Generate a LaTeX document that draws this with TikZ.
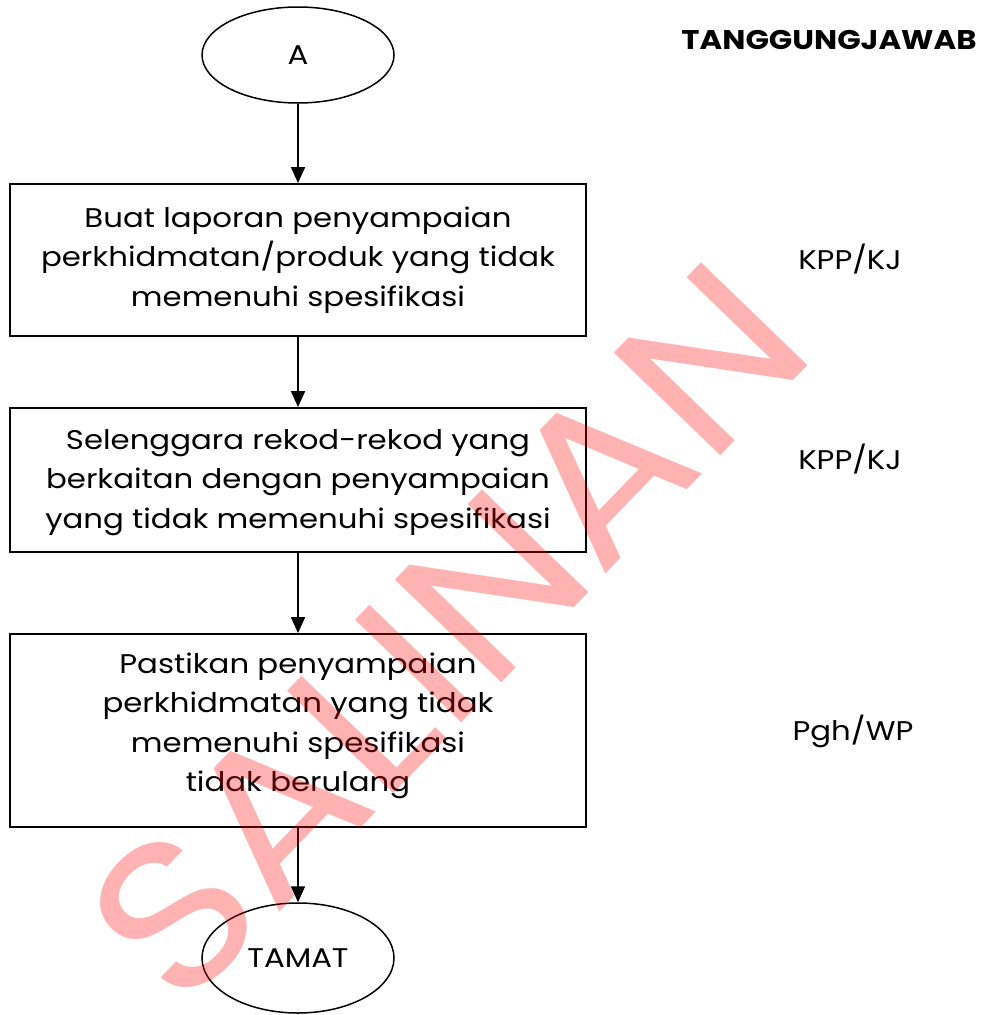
\documentclass[tikz,border=0pt]{standalone}
\usepackage{fontspec}
\setmainfont{Poppins}[FakeStretch=1.14]
\newfontfamily\wmfont{Poppins}[FakeStretch=1.08]
\usetikzlibrary{arrows.meta,shapes.geometric}
\begin{document}
\begin{tikzpicture}[x=1pt,y=-1pt,
  every node/.style={font=\fontsize{27}{39.5}\selectfont},
  stepbox/.style={draw,line width=1.8pt,minimum width=576pt,align=center,inner sep=0pt},
  terminal/.style={draw,ellipse,line width=1.5pt,inner sep=0pt},
  flow/.style={line width=1.8pt,-{Triangle[length=16pt,width=14pt]}},
  resp/.style={align=center}]
\useasboundingbox (0,0) rectangle (983,1015);
\node[terminal,minimum width=192pt,minimum height=96pt] (a) at (298,55) {A};
\node[stepbox,minimum height=152pt] (b1) at (298,260) {Buat laporan penyampaian\\perkhidmatan/produk yang tidak\\memenuhi spesifikasi};
\node[stepbox,minimum height=144pt,text depth=2pt] (b2) at (298,480) {Selenggara rekod-rekod yang\\berkaitan dengan penyampaian\\yang tidak memenuhi spesifikasi};
\node[stepbox,minimum height=193pt,text depth=17pt] (b3) at (298,730.5) {Pastikan penyampaian\\perkhidmatan yang tidak\\memenuhi spesifikasi\\tidak berulang};
\node[terminal,minimum width=192pt,minimum height=110pt] (t) at (298,958) {TAMAT};
\draw[flow] (a) -- (b1);
\draw[flow] (b1) -- (b2);
\draw[flow] (b2) -- (b3);
\draw[flow] (b3) -- (t);
\node[font=\fontsize{27}{32}\selectfont\bfseries] (h) at (829,40) {TANGGUNGJAWAB};
\node[resp] (r1) at (850,259) {KPP/KJ};
\node[resp] (r2) at (850,459) {KPP/KJ};
\node[resp] (r3) at (853,731) {Pgh/WP};
\node[font=\wmfont\fontsize{212}{212}\selectfont,text=red,opacity=0.3,rotate=46] (wm) at (447,632) {SALINAN};
\end{tikzpicture}
\end{document}
